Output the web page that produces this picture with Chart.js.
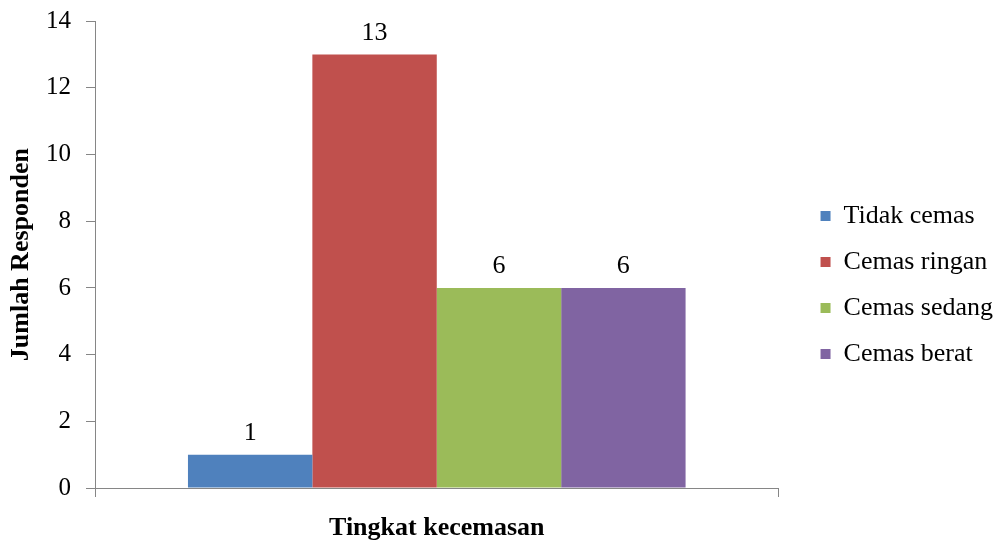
<!DOCTYPE html>
<html lang="id">
<head>
    <meta charset="UTF-8">
    <title>Tingkat kecemasan</title>
    <script src="https://cdn.jsdelivr.net/npm/chart.js"></script>
    <style>
        * {
            margin: 0;
            padding: 0;
            box-sizing: border-box;
        }
        body {
            background: #ffffff;
            width: 997px;
            height: 545px;
            overflow: hidden;
        }
        #wrap {
            width: 997px;
            height: 545px;
        }
    </style>
</head>
<body>
    <div id="wrap">
        <canvas id="chart" width="997" height="545"></canvas>
    </div>

    <script>
        // data
        const categories = [""];
        const seriesNames = ["Tidak cemas", "Cemas ringan", "Cemas sedang", "Cemas berat"];
        const seriesValues = [1, 13, 6, 6];
        const yTicks = [0, 2, 4, 6, 8, 10, 12, 14];

        const seriesColors = ["#4F81BD", "#C0504D", "#9BBB59", "#8064A2"];
        const axisColor = "#868686";
        const serif = "'Liberation Serif', 'Times New Roman', serif";

        // value labels above each bar
        const valueLabels = {
            id: "valueLabels",
            afterDatasetsDraw(chart) {
                const ctx = chart.ctx;
                ctx.save();
                ctx.font = "26px " + serif;
                ctx.fillStyle = "#000";
                ctx.textAlign = "center";
                ctx.textBaseline = "alphabetic";
                chart.data.datasets.forEach((ds, i) => {
                    const meta = chart.getDatasetMeta(i);
                    meta.data.forEach((bar, j) => {
                        ctx.fillText(String(ds.data[j]), bar.x, bar.y - 15);
                    });
                });
                ctx.restore();
            }
        };

        // leave a gap between the plot and the legend
        const legendGap = {
            id: "legendGap",
            afterLayout(chart) {
                const lg = chart.legend;
                if (lg) {
                    lg.left += 22;
                    lg.right += 22;
                }
            }
        };

        const datasets = seriesNames.map((name, i) => ({
            label: name,
            data: [seriesValues[i]],
            backgroundColor: seriesColors[i],
            borderWidth: 0
        }));

        new Chart(document.getElementById("chart").getContext("2d"), {
            type: "bar",
            data: {
                labels: categories,
                datasets: datasets
            },
            options: {
                responsive: false,
                animation: false,
                categoryPercentage: 0.728,
                barPercentage: 1,
                layout: {
                    padding: { top: 0, right: 16, bottom: 0, left: 0 }
                },
                plugins: {
                    tooltip: { enabled: false },
                    legend: {
                        position: "right",
                        align: "start",
                        title: {
                            display: true,
                            text: " ",
                            font: { size: 10 },
                            padding: { top: 171, bottom: 0 }
                        },
                        labels: {
                            boxWidth: 10,
                            boxHeight: 10,
                            padding: 20,
                            color: "#000",
                            font: { family: serif, size: 26 }
                        }
                    }
                },
                scales: {
                    x: {
                        grid: {
                            offset: true,
                            drawOnChartArea: false,
                            drawTicks: true,
                            tickLength: 9,
                            color: axisColor
                        },
                        border: { color: axisColor, width: 1 },
                        ticks: { display: false },
                        title: {
                            display: true,
                            text: "Tingkat kecemasan",
                            color: "#000",
                            font: { family: serif, size: 26, weight: "bold" },
                            padding: { top: 0, bottom: 1 }
                        },
                        afterFit(scale) { scale.height = 57; }
                    },
                    y: {
                        min: 0,
                        max: 14,
                        afterBuildTicks(scale) {
                            scale.ticks = yTicks.map(v => ({ value: v }));
                        },
                        grid: {
                            drawOnChartArea: false,
                            drawTicks: true,
                            tickLength: 9,
                            color: axisColor
                        },
                        border: { color: axisColor, width: 1 },
                        ticks: {
                            padding: 15,
                            color: "#000",
                            font: { family: serif, size: 25, lineHeight: 0.5 }
                        },
                        title: {
                            display: true,
                            text: "Jumlah Responden",
                            color: "#000",
                            font: { family: serif, size: 26, weight: "bold" },
                            padding: { top: 6, bottom: 0 }
                        },
                        afterFit(scale) { scale.width = 95; }
                    }
                }
            },
            plugins: [valueLabels, legendGap]
        });
    </script>
</body>
</html>
